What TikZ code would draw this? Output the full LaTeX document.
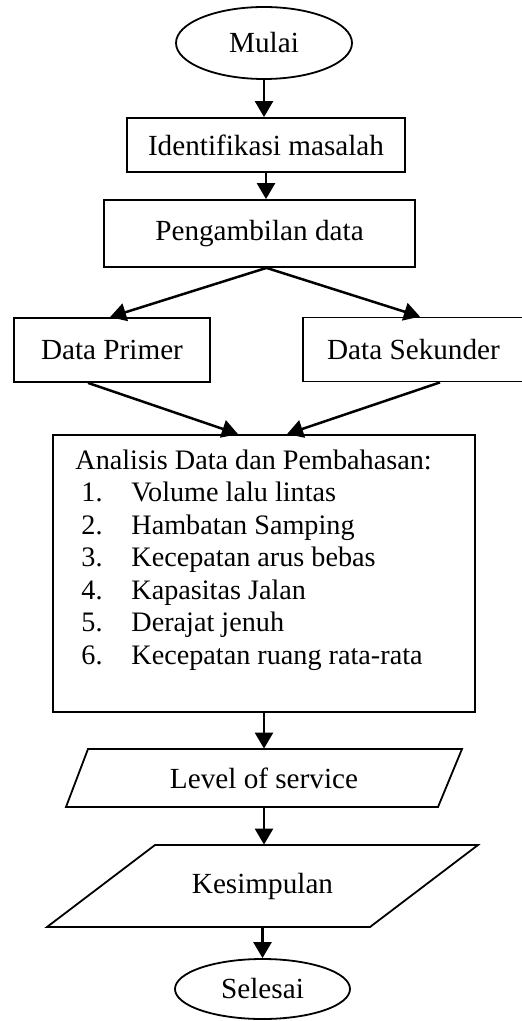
\documentclass[tikz,border=0pt]{standalone}
\usepackage{fontspec}
\setmainfont{Liberation Serif}
\usetikzlibrary{arrows.meta,shapes.geometric,calc}
\begin{document}
\begin{tikzpicture}[x=0.5pt,y=-0.5pt,
  txt/.style={font=\fontsize{14.6}{17}\selectfont, inner sep=0pt},
  atxt/.style={font=\fontsize{14.1}{16}\selectfont, inner sep=0pt},
  box/.style={draw, line width=0.9pt, inner sep=0pt, font=\fontsize{14.6}{17}\selectfont},
  term/.style={box, ellipse},
  shp/.style={line width=0.9pt, line join=miter},
  arr/.style={line width=1.25pt, -{Triangle[width=9pt,length=8pt]}}
]
\useasboundingbox (0,0) rectangle (522,1021);

\node[term, minimum width=88pt, minimum height=36pt] (mulai) at (264,43) {Mulai};
\node[box, minimum width=139pt, minimum height=27pt] (ident) at (266,145) {Identifikasi masalah};
\node[box, minimum width=155.5pt, minimum height=33.5pt] (peng) at (259.5,233.5) {Pengambilan data};
\node[box, minimum width=98pt, minimum height=32pt] (primer) at (112,350) {Data Primer};
\node[box, minimum width=110.5pt, minimum height=32pt] (sekunder) at (413.5,349.5) {Data Sekunder};

\node[box, minimum width=211pt, minimum height=138.5pt] (ana) at (264,573.5) {};
\node[atxt, anchor=base west] (h0) at (75,469) {Analisis Data dan Pembahasan:};
\node[atxt, anchor=base east] (n1) at (103,501.5) {1.};
\node[atxt, anchor=base west] (t1) at (131,501.5) {Volume lalu lintas};
\node[atxt, anchor=base east] (n2) at (103,534) {2.};
\node[atxt, anchor=base west] (t2) at (131,534) {Hambatan Samping};
\node[atxt, anchor=base east] (n3) at (103,566.5) {3.};
\node[atxt, anchor=base west] (t3) at (131,566.5) {Kecepatan arus bebas};
\node[atxt, anchor=base east] (n4) at (103,599) {4.};
\node[atxt, anchor=base west] (t4) at (131,599) {Kapasitas Jalan};
\node[atxt, anchor=base east] (n5) at (103,631.5) {5.};
\node[atxt, anchor=base west] (t5) at (131,631.5) {Derajat jenuh};
\node[atxt, anchor=base east] (n6) at (103,664) {6.};
\node[atxt, anchor=base west] (t6) at (131,664) {Kecepatan ruang rata-rata};

\draw[shp] (88,749) -- (462,749) -- (438,807) -- (66,807) -- cycle;
\node[txt, minimum height=29pt] (level) at (264,778) {Level of service};

\draw[shp] (155,845) -- (478,845) -- (370,927) -- (47,927) -- cycle;
\node[txt, minimum height=41pt] (kesim) at (262.5,886) {Kesimpulan};

\node[term, minimum width=87.5pt, minimum height=30pt] (selesai) at (262.5,989) {Selesai};

\draw[arr] (mulai.south) -- (mulai.south |- ident.north);
\draw[arr] (ident.south) -- (ident.south |- peng.north);
\draw[arr] ([xshift=3.5pt]peng.south) -- ([xshift=-1pt]primer.north);
\draw[arr] ([xshift=3.5pt]peng.south) -- ([xshift=3.25pt]sekunder.north);
\draw[arr] ([xshift=-12pt]primer.south) -- ([xshift=-13pt]ana.north);
\draw[arr] ([xshift=13.25pt]sekunder.south) -- ([xshift=11.5pt]ana.north);
\draw[arr] (ana.south) -- (ana.south |- level.north);
\draw[arr] (level.south) -- (level.south |- kesim.north);
\draw[arr] (kesim.south) -- (kesim.south |- selesai.north);
\end{tikzpicture}
\end{document}
